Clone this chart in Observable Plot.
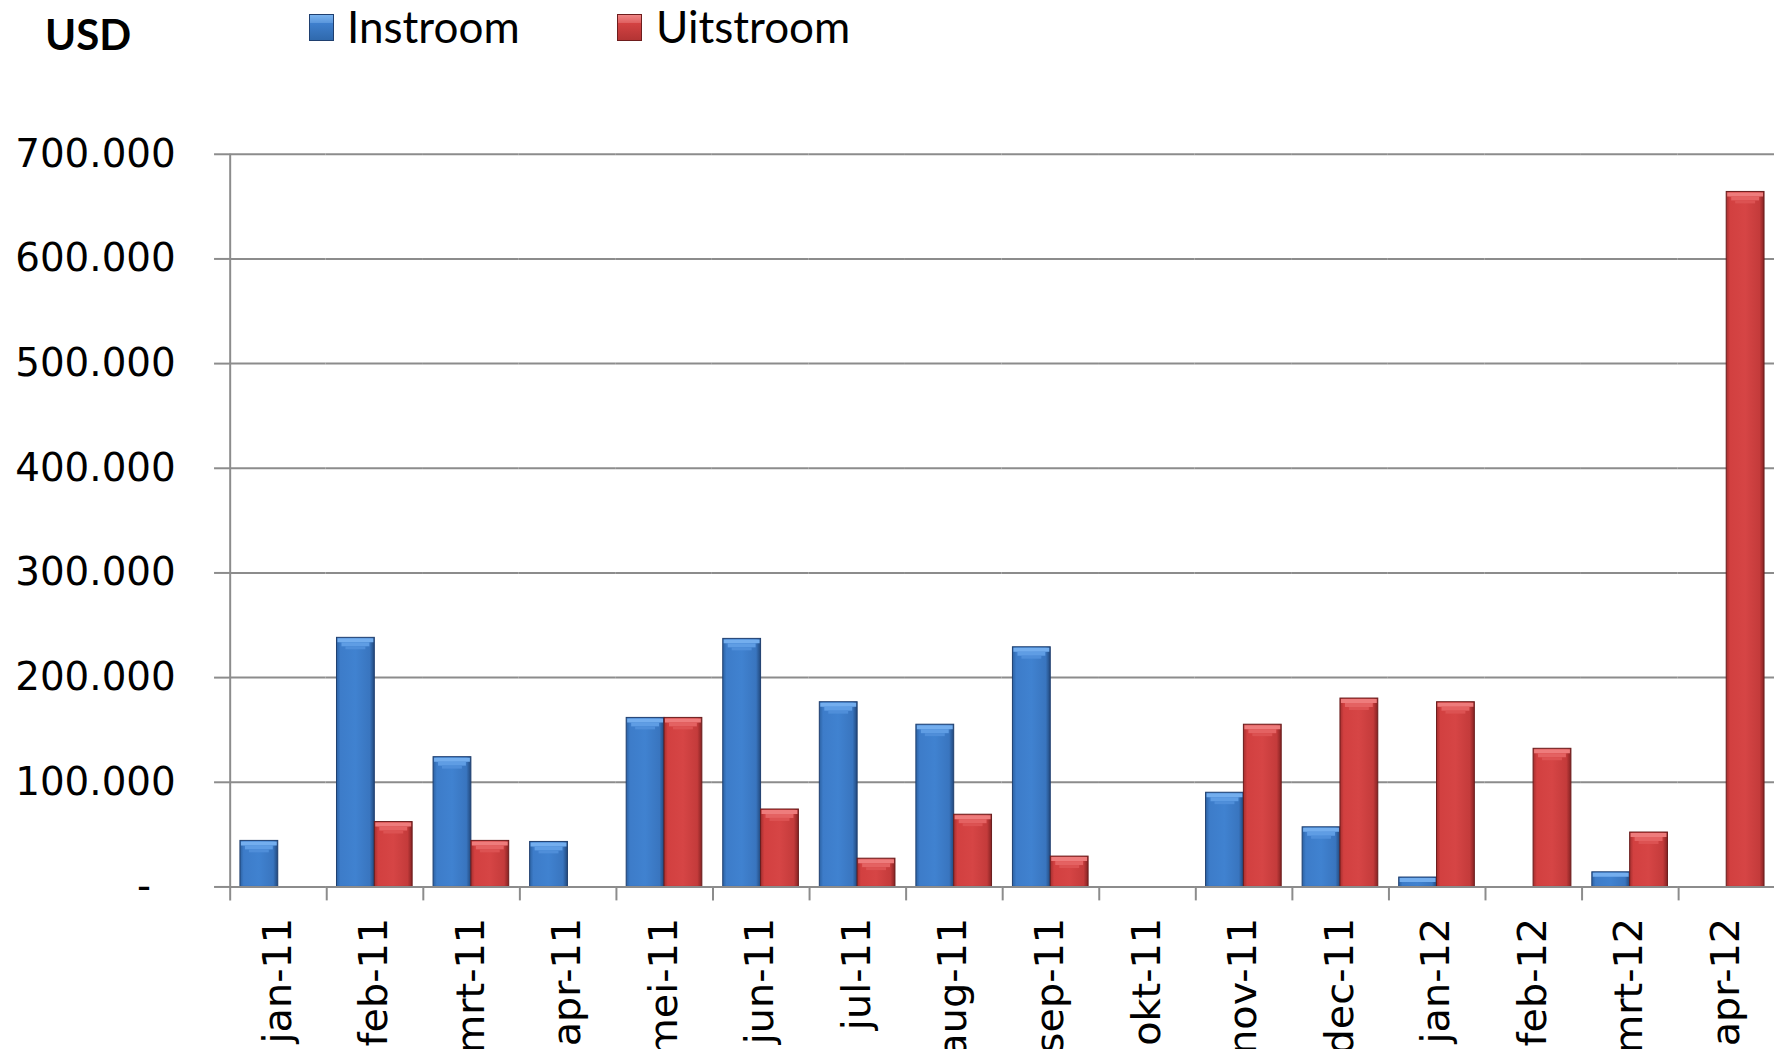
<!DOCTYPE html>
<html>
<head>
<meta charset="utf-8">
<script src="https://cdn.jsdelivr.net/npm/d3@7"></script>
<script src="https://cdn.jsdelivr.net/npm/@observablehq/plot@0.6"></script>
<style>
  html, body { margin: 0; padding: 0; background: #fff; overflow: hidden; width: 1775px; height: 1051px; }
  #header { position: relative; height: 102px; width: 1775px; font-family: Lato, "Open Sans", sans-serif; color: #000; }
  #usd { position: absolute; left: 45px; top: 13px; font-size: 42px; font-weight: 700; line-height: 1; }
  .sw { position: absolute; top: 14px; width: 25px; height: 27px; box-sizing: border-box; }
  .lab { position: absolute; top: 4px; font-size: 44px; line-height: 1; }
  #chart svg { display: block; }
</style>
</head>
<body>
<svg width="0" height="0" style="position:absolute">
  <defs>
    <linearGradient id="gBlue" x1="0" x2="1" y1="0" y2="0">
      <stop offset="0" stop-color="#2c62a3"/>
      <stop offset="0.1" stop-color="#3d7cc9"/>
      <stop offset="0.5" stop-color="#4082d0"/>
      <stop offset="0.88" stop-color="#3975bf"/>
      <stop offset="1" stop-color="#22497d"/>
    </linearGradient>
    <linearGradient id="gRed" x1="0" x2="1" y1="0" y2="0">
      <stop offset="0" stop-color="#a52f2f"/>
      <stop offset="0.1" stop-color="#d24040"/>
      <stop offset="0.5" stop-color="#d64545"/>
      <stop offset="0.88" stop-color="#c43b3b"/>
      <stop offset="1" stop-color="#862323"/>
    </linearGradient>
  </defs>
</svg>
<div id="header">
  <div id="usd">USD</div>
  <div class="sw" style="left:309px;background:linear-gradient(180deg,#7ab3ee 0%,#5c98dd 30%,#3f80ce 31%,#2f69ad 100%);border:1px solid #1f3f6f"></div>
  <div class="lab" style="left:347px">Instroom</div>
  <div class="sw" style="left:617px;background:linear-gradient(180deg,#ef8585 0%,#e06262 30%,#d44343 31%,#b33434 100%);border:1px solid #6e1d1d"></div>
  <div class="lab" style="left:656px">Uitstroom</div>
</div>
<div id="chart"></div>
<script>
// ---- data ----
const months = ["jan-11","feb-11","mrt-11","apr-11","mei-11","jun-11","jul-11","aug-11","sep-11","okt-11","nov-11","dec-11","jan-12","feb-12","mrt-12","apr-12"];
const series = ["Instroom","Uitstroom"];
const instroom  = [44000, 238000, 124000, 43000, 161500, 237000, 176500, 155000, 229000, 0, 90000, 57000, 9000, 0, 14000, 0];
const uitstroom = [0, 62000, 44000, 0, 161500, 74000, 27000, 69000, 29000, 0, 155000, 180000, 176500, 132000, 52000, 664000];
const yTicks = [0, 100000, 200000, 300000, 400000, 500000, 600000, 700000];

const rows = months.flatMap((m, i) => [
  {month: m, series: "Instroom", value: instroom[i]},
  {month: m, series: "Uitstroom", value: uitstroom[i]}
]).filter(d => d.value > 0);

// ---- layout ----
const W = 1783, H = 951, ML = 229, MR = 0, MT = 52, MB = 163;
const PO = 0.26;
const facetW = (W - ML - MR) / months.length;
const bandW = facetW / (2 + 2 * PO);
const edgeDx = -(bandW * PO + bandW / 2);
const grid = "#8c8c8c";
const light1 = d => d.series === "Instroom" ? "#74aeee" : "#ee7c7c";
const light2 = d => d.series === "Instroom" ? "#5f9de4" : "#e46262";
const light3 = d => d.series === "Instroom" ? "#4f8ed9" : "#dc5252";

const fmt = d => d === 0 ? "-\u00a0\u00a0" : d3.format(",.0f")(d).replace(/,/g, ".");
const tall = rows.filter(d => d.value > 15000);

const chart = Plot.plot({
  width: W, height: H,
  marginLeft: ML, marginRight: MR, marginTop: MT, marginBottom: MB,
  style: {fontFamily: "'DejaVu Sans', sans-serif", fontSize: "39px", color: "#000", background: "transparent", overflow: "hidden"},
  fx: {domain: months, padding: 0, label: null},
  x: {domain: series, paddingInner: 0, paddingOuter: PO, axis: null},
  y: {domain: [0, 700000], label: null},
  color: {domain: series, range: ["url(#gBlue)", "url(#gRed)"]},
  marks: [
    Plot.gridY(yTicks, {stroke: grid, strokeOpacity: 1, strokeWidth: 2}),
    Plot.axisY(yTicks, {tickSize: 15, tickPadding: 39, tickFormat: fmt, stroke: grid, strokeWidth: 2, fill: "#000", fontSize: 39}),
    Plot.barY(rows, {fx: "month", x: "series", y: "value", fill: "series",
      stroke: d => d.series === "Instroom" ? "#1f3f6f" : "#6a1c1c", strokeWidth: 1}),
    Plot.tickY(rows, {fx: "month", x: "series", y: "value", stroke: light1, strokeWidth: 4, dy: 2.5, insetLeft: 1, insetRight: 1}),
    Plot.tickY(tall, {fx: "month", x: "series", y: "value", stroke: light2, strokeWidth: 4, dy: 6.5, insetLeft: 5, insetRight: 5}),
    Plot.tickY(tall, {fx: "month", x: "series", y: "value", stroke: light3, strokeWidth: 3, dy: 10, insetLeft: 9, insetRight: 9}),
    Plot.ruleY([0], {stroke: grid, strokeWidth: 2}),
    Plot.ruleX(months, {fx: d => d, x: () => "Instroom", dx: edgeDx,
      y1: d => d === months[0] ? 700000 : 0, y2: 0, insetBottom: -14, stroke: grid, strokeWidth: 2}),
    Plot.axisFx({anchor: "bottom", tickRotate: -90, tickSize: 0, tickPadding: 31, fontSize: 40, fill: "#000", label: null})
  ]
});
document.getElementById("chart").appendChild(chart);
</script>
</body>
</html>
